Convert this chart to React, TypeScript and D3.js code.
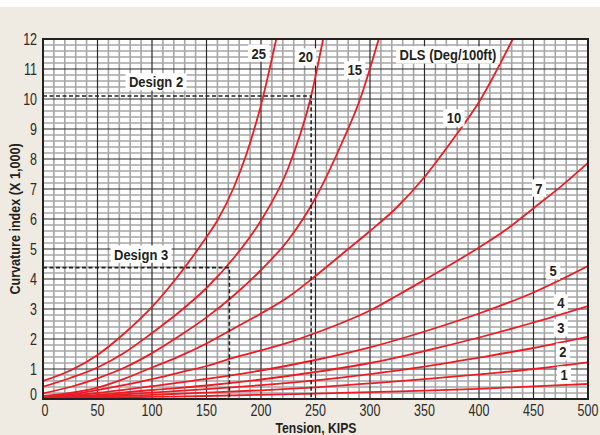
import React, { useEffect, useRef } from 'react';
import * as d3 from 'd3';

// axis ticks
const tensionTicks = [0, 50, 100, 150, 200, 250, 300, 350, 400, 450, 500];
const curvatureTicks = [0, 1, 2, 3, 4, 5, 6, 7, 8, 9, 10, 11, 12];

// curvature index (x1,000) vs tension (KIPS), one array per DLS (deg/100ft)
const dls25 = [[0, 0.6], [25, 0.95], [50, 1.47], [75, 2.2], [100, 3.07], [125, 4.15], [150, 5.4], [160, 5.95], [175, 7.05], [187, 8.2], [200, 9.8], [214, 12]];
const dls20 = [[0, 0.41], [25, 0.7], [50, 1.05], [75, 1.55], [100, 2.2], [125, 2.9], [150, 3.7], [175, 4.7], [200, 5.95], [225, 7.7], [246, 10.1], [257, 12]];
const dls15 = [[0, 0.19], [25, 0.4], [50, 0.69], [75, 1.05], [100, 1.53], [125, 2.1], [150, 2.72], [175, 3.45], [200, 4.3], [225, 5.3], [250, 6.7], [275, 8.6], [291, 10.0], [308, 12]];
const dls10 = [[0, 0.1], [25, 0.2], [50, 0.38], [75, 0.68], [100, 1.05], [125, 1.42], [150, 1.85], [175, 2.35], [200, 2.85], [225, 3.4], [250, 4.1], [275, 4.85], [300, 5.6], [325, 6.4], [350, 7.4], [375, 8.6], [400, 9.9], [431, 12]];
const dls7 = [[0, 0.05], [25, 0.15], [50, 0.3], [75, 0.47], [100, 0.66], [125, 0.88], [150, 1.1], [175, 1.38], [200, 1.62], [225, 1.88], [250, 2.2], [275, 2.55], [300, 2.95], [325, 3.45], [350, 3.97], [375, 4.5], [400, 5.05], [425, 5.65], [450, 6.36], [475, 7.08], [500, 7.87]];
const dls5 = [[0, 0.02], [50, 0.2], [100, 0.43], [150, 0.67], [200, 0.95], [250, 1.3], [300, 1.72], [350, 2.25], [400, 2.85], [450, 3.55], [500, 4.43]];
const dls4 = [[0, 0.01], [50, 0.14], [100, 0.3], [150, 0.45], [200, 0.65], [250, 0.9], [300, 1.2], [350, 1.6], [400, 2.05], [450, 2.55], [500, 3.1]];
const dls3 = [[0, 0.01], [50, 0.1], [100, 0.21], [150, 0.33], [200, 0.46], [250, 0.62], [300, 0.83], [350, 1.08], [400, 1.38], [450, 1.7], [500, 2.08]];
const dls2 = [[0, 0], [50, 0.07], [100, 0.14], [150, 0.21], [200, 0.29], [250, 0.39], [300, 0.52], [350, 0.66], [400, 0.82], [450, 1.0], [500, 1.22]];
const dls1 = [[0, 0], [50, 0.04], [100, 0.07], [150, 0.1], [200, 0.14], [250, 0.18], [300, 0.23], [350, 0.28], [400, 0.34], [450, 0.42], [500, 0.5]];

const dlsNames = ['25', '20', '15', '10', '7', '5', '4', '3', '2', '1'];
const dlsCurves = [dls25, dls20, dls15, dls10, dls7, dls5, dls4, dls3, dls2, dls1];

// design cases: [tension, curvature]
const designNames = ['Design 2', 'Design 3'];
const designPoints = [[246, 10.1], [171, 4.38]];

const FONT = "'Liberation Sans', Arial, Helvetica, sans-serif";
const SQUEEZE = 0.84; // condensed look

const App = () => {
  const ref = useRef<SVGSVGElement>(null);

  useEffect(() => {
    const svg = d3.select(ref.current);
    svg.selectAll('*').remove();

    const width = 600;
    const height = 435;
    const left = 43, right = 588, top = 39, bottom = 399;

    const x = d3.scaleLinear().domain([0, 500]).range([left, right]);
    const y = d3.scaleLinear().domain([0, 12]).range([bottom, top]);

    // page background
    svg.append('rect').attr('width', width).attr('height', height).attr('fill', '#efebe2');
    svg.append('rect').attr('width', width).attr('height', 7).attr('fill', '#ffffff');
    svg.append('rect')
      .attr('x', left).attr('y', top)
      .attr('width', right - left).attr('height', bottom - top)
      .attr('fill', '#ffffff');

    const grid = svg.append('g');

    // horizontal minor lines every 0.2
    const hMinor = d3.range(1, 60).filter(i => i % 5 !== 0);
    grid.selectAll('.hminor')
      .data(hMinor)
      .enter()
      .append('line')
      .attr('x1', left).attr('x2', right)
      .attr('y1', d => y(d / 5)).attr('y2', d => y(d / 5))
      .attr('stroke', '#a6a6a6')
      .attr('stroke-width', 1.5);

    // vertical minor lines every 10 KIPS
    const vMinor = d3.range(10, 500, 10).filter(v => v % 50 !== 0);
    grid.selectAll('.vminor')
      .data(vMinor)
      .enter()
      .append('line')
      .attr('y1', top).attr('y2', bottom)
      .attr('x1', d => x(d)).attr('x2', d => x(d))
      .attr('stroke', '#a6a6a6')
      .attr('stroke-width', 1.6);

    // major lines
    grid.selectAll('.hmajor')
      .data(curvatureTicks.slice(1, -1))
      .enter()
      .append('line')
      .attr('x1', left).attr('x2', right)
      .attr('y1', d => y(d)).attr('y2', d => y(d))
      .attr('stroke', '#2b2b2b')
      .attr('stroke-width', 1.2);

    grid.selectAll('.vmajor')
      .data(tensionTicks.slice(1, -1))
      .enter()
      .append('line')
      .attr('y1', top).attr('y2', bottom)
      .attr('x1', d => x(d)).attr('x2', d => x(d))
      .attr('stroke', '#2b2b2b')
      .attr('stroke-width', 1.2);

    svg.append('clipPath').attr('id', 'plotclip')
      .append('rect')
      .attr('x', left).attr('y', top)
      .attr('width', right - left).attr('height', bottom - top);

    // DLS curves
    const line = d3.line<number[]>()
      .x(d => x(d[0]))
      .y(d => y(d[1]))
      .curve(d3.curveMonotoneX);

    svg.append('g')
      .attr('clip-path', 'url(#plotclip)')
      .selectAll('path')
      .data(dlsCurves)
      .enter()
      .append('path')
      .attr('d', d => line(d))
      .attr('fill', 'none')
      .attr('stroke', '#ec1c24')
      .attr('stroke-width', 1.8);

    // design dashed lines
    const dash = svg.append('g')
      .attr('fill', 'none')
      .attr('stroke', '#222')
      .attr('stroke-width', 1.6)
      .attr('stroke-dasharray', '4,2.5');
    designPoints.forEach(p => {
      dash.append('path')
        .attr('d', `M${left},${y(p[1])}H${x(p[0])}V${bottom}`);
    });

    // plot frame
    svg.append('rect')
      .attr('x', left).attr('y', top)
      .attr('width', right - left).attr('height', bottom - top)
      .attr('fill', 'none')
      .attr('stroke', '#222')
      .attr('stroke-width', 2);

    // boxed labels
    const boxLabel = (txt, tx, cy) => {
      const g = svg.append('g')
        .attr('transform', `translate(${x(tx)},${y(cy)}) scale(${SQUEEZE},1)`);
      const rect = g.append('rect').attr('fill', '#ffffff');
      const t = g.append('text')
        .attr('text-anchor', 'middle')
        .attr('dominant-baseline', 'central')
        .attr('font-family', FONT)
        .attr('font-weight', 'bold')
        .attr('font-size', 15.5)
        .attr('fill', '#231f20')
        .text(txt);
      const bb = (t.node() as SVGTextElement).getBBox();
      rect.attr('x', bb.x - 4).attr('y', bb.y)
        .attr('width', bb.width + 8).attr('height', bb.height);
    };

    // label spots in data units [tension, curvature]
    const curveLabelAt = [
      [198, 11.53], [241, 11.4], [286, 10.97], [377, 9.37], [455, 7.03],
      [468, 4.27], [475, 3.2], [475, 2.37], [477, 1.57], [478, 0.8],
    ];
    dlsNames.forEach((n, i) => boxLabel(n, curveLabelAt[i][0], curveLabelAt[i][1]));
    boxLabel('DLS (Deg/100ft)', 371.5, 11.47);

    const designLabelAt = [[103.7, 10.57], [90, 4.83]];
    designNames.forEach((n, i) => boxLabel(n, designLabelAt[i][0], designLabelAt[i][1]));

    // tick labels
    svg.append('g')
      .selectAll('text')
      .data(curvatureTicks)
      .enter()
      .append('text')
      .attr('transform', d => `translate(37,${y(d) - (d === 0 ? 5 : 0)}) scale(0.78,1)`)
      .attr('text-anchor', 'end')
      .attr('dominant-baseline', 'central')
      .attr('font-family', FONT)
      .attr('font-size', 16)
      .attr('fill', '#2a2a2a')
      .text(d => d);

    svg.append('g')
      .selectAll('text')
      .data(tensionTicks)
      .enter()
      .append('text')
      .attr('transform', d => `translate(${x(d) + (d === 0 ? 2 : 0)},416) scale(0.78,1)`)
      .attr('text-anchor', 'middle')
      .attr('font-family', FONT)
      .attr('font-size', 16)
      .attr('fill', '#2a2a2a')
      .text(d => d);

    // axis titles
    svg.append('text')
      .attr('transform', `translate(316,433) scale(${SQUEEZE},1)`)
      .attr('text-anchor', 'middle')
      .attr('font-family', FONT)
      .attr('font-weight', 'bold')
      .attr('font-size', 14.5)
      .attr('fill', '#231f20')
      .text('Tension, KIPS');

    svg.append('text')
      .attr('transform', `translate(20,219) rotate(-90) scale(${SQUEEZE},1)`)
      .attr('text-anchor', 'middle')
      .attr('font-family', FONT)
      .attr('font-weight', 'bold')
      .attr('font-size', 15)
      .attr('fill', '#231f20')
      .text('Curvature index (X 1,000)');
  }, []);

  return (
    <svg
      ref={ref}
      width={600}
      height={435}
      style={{ position: 'absolute', left: 0, top: 0, display: 'block' }}
    />
  );
};

export default App;
